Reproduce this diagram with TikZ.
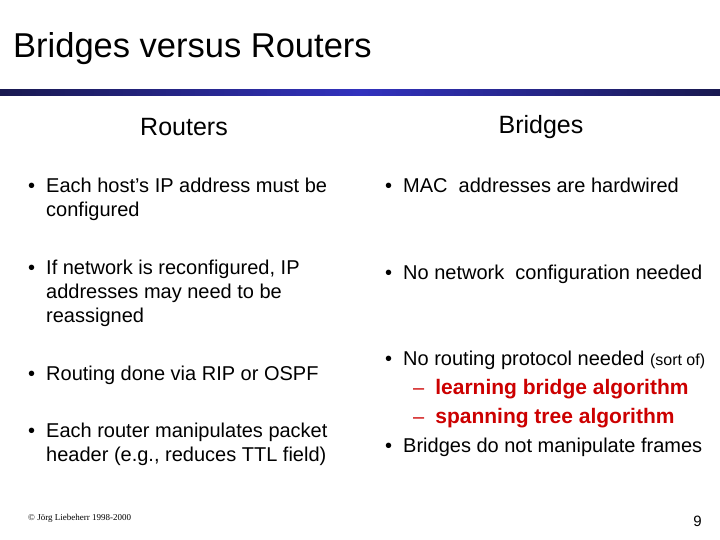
\documentclass[tikz,border=0pt]{standalone}
\usepackage{fontspec}
\setmainfont{Liberation Sans}
\newfontfamily\footfont{Liberation Serif}
\begin{document}
\begin{tikzpicture}[x=1pt,y=-1pt,
  txt/.style={anchor=north west,align=left,font=\fontsize{20}{24}\selectfont,inner sep=0},
  hdr/.style={font=\fontsize{25}{28}\selectfont,inner sep=0}]
\useasboundingbox (0,0) rectangle (720,540);
\definecolor{navy}{RGB}{25,25,80}
\definecolor{mid}{RGB}{50,50,190}
\shade[left color=navy,right color=mid] (0,90) rectangle (360,96);
\shade[left color=mid,right color=navy] (360,90) rectangle (720,96);
\node[anchor=west,inner sep=0,font=\fontsize{34.5}{36}\selectfont] (title) at (13,49) {Bridges versus Routers};
\node[hdr] (hr) at (184,127) {Routers};
\node[hdr] (hb) at (541,127) {Bridges};
\node[txt] (r1) at (28,178) {•\hspace{11pt}Each host’s IP address must be\\\hspace{18pt}configured};
\node[txt] (r2) at (28,260) {•\hspace{11pt}If network is reconfigured, IP\\\hspace{18pt}addresses may need to be\\\hspace{18pt}reassigned};
\node[txt] (r3) at (28,366) {•\hspace{11pt}Routing done via RIP or OSPF};
\node[txt] (r4) at (28,423) {•\hspace{11pt}Each router manipulates packet\\\hspace{18pt}header (e.g., reduces TTL field)};
\node[txt] (b1) at (385,178) {•\hspace{11pt}MAC\ \ addresses are hardwired};
\node[txt] (b2) at (385,265) {•\hspace{11pt}No network\ \ configuration needed};
\node[txt,font=\fontsize{20}{29}\selectfont] (b3) at (385,351) {•\hspace{11pt}No routing protocol needed {\fontsize{16}{16}\selectfont(sort of)}\\
\hspace{28pt}{\color[RGB]{204,0,0}–\hspace{11pt}{\fontsize{21}{29}\selectfont\textbf{learning bridge algorithm}}}\\
\hspace{28pt}{\color[RGB]{204,0,0}–\hspace{11pt}{\fontsize{21}{29}\selectfont\textbf{spanning tree algorithm}}}\\
•\hspace{11pt}Bridges do not manipulate frames};
\node[anchor=west,inner sep=0,font=\footfont\fontsize{9}{10}\selectfont] (foot) at (28,518) {© Jörg Liebeherr 1998-2000};
\node[anchor=east,inner sep=0,font=\fontsize{15}{16}\selectfont] (pg) at (702,521) {9};
\end{tikzpicture}
\end{document}
